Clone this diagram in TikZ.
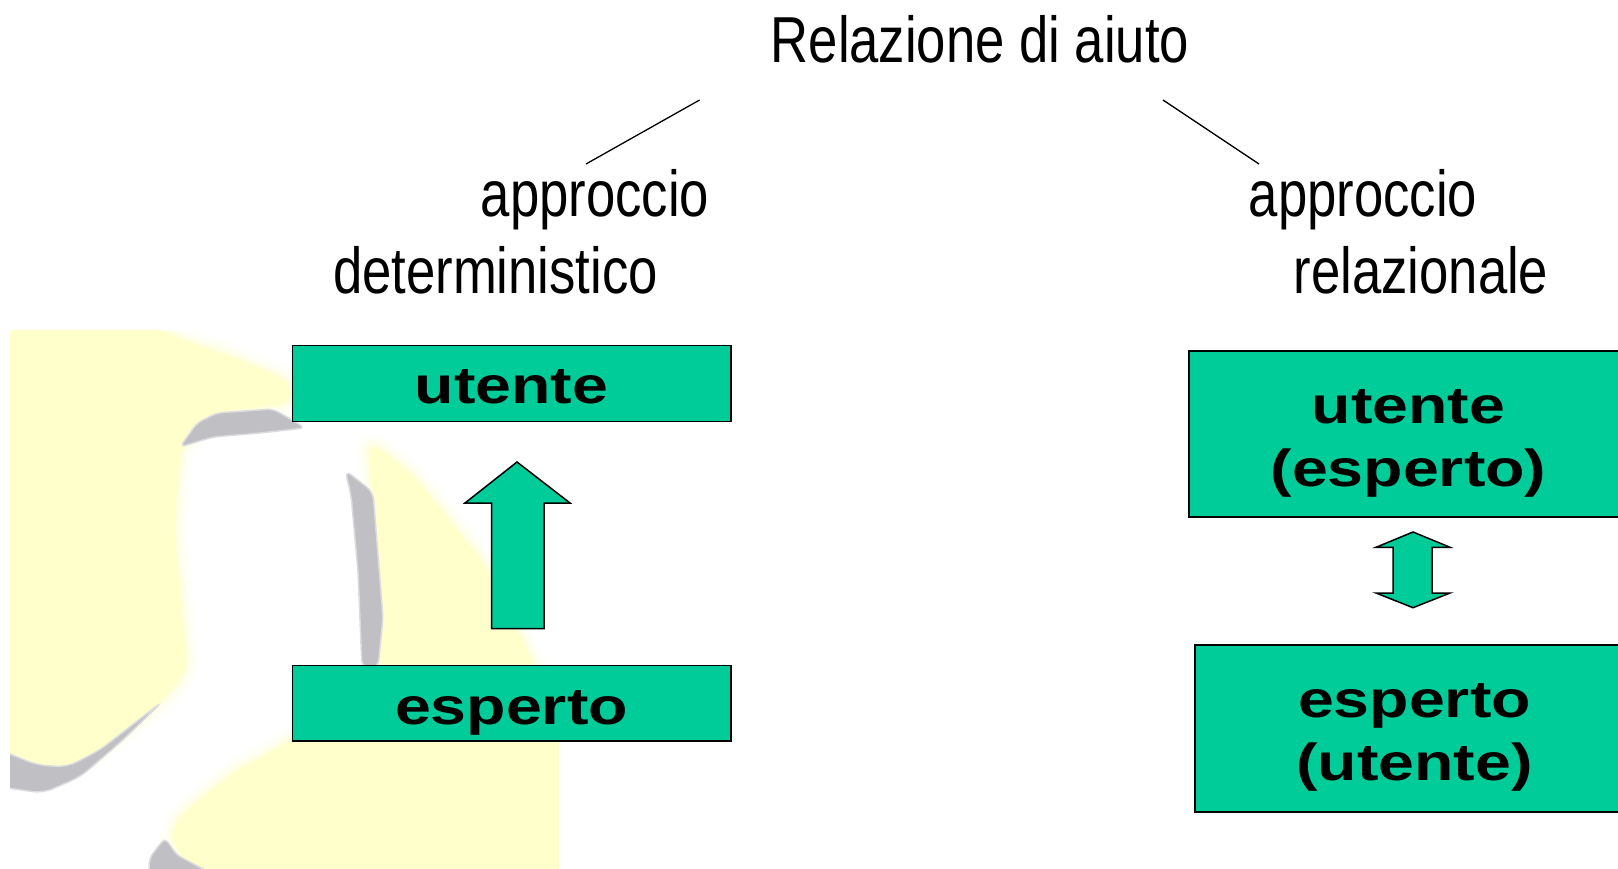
\documentclass[tikz,border=0pt]{standalone}
\usepackage{fontspec}
\setmainfont{Liberation Sans}
\newfontfamily\narrowf[FakeStretch=0.81]{Liberation Sans}
\newfontfamily\widef[FakeStretch=1.24]{Liberation Sans}
\definecolor{boxgreen}{HTML}{00CC99}
\definecolor{paleyellow}{HTML}{FFFFCC}
\definecolor{softgray}{HTML}{C0C0C4}
\tikzset{
  boxnode/.style={draw=black,fill=boxgreen,line width=1.5pt,inner sep=0pt,anchor=north west,
    font=\widef\bfseries\fontsize{52}{63}\selectfont,align=center},
  labeltext/.style={inner sep=0pt,anchor=base,font=\narrowf\fontsize{65}{65}\selectfont},
  tie/.style={draw=black,line width=1.3pt},
  blockarrow/.style={draw=black,fill=boxgreen,line width=1.5pt,line join=miter},
  yellowpatch/.style={fill=paleyellow,rounded corners=14pt},
  grayblur/.style={fill=softgray,draw=softgray!55!white,line width=1.5pt},
}
\newcommand{\boxline}[2]{\raisebox{-#1pt}[0pt][0pt]{\begin{tabular}[b]{@{}c@{}}#2\end{tabular}}}
\begin{document}
\begin{tikzpicture}[x=1pt,y=-1pt]
\useasboundingbox (0,0) rectangle (1618,869);
% faded background picture
\begin{scope}
\clip (10,330) rectangle (559,869);
\foreach \w/\c in {26/10,16/30,7/60}{
  \path[draw=paleyellow!\c!white,fill=paleyellow!\c!white,line width=\w pt,rounded corners=14pt,line join=round]
    (-20,322) -- (140,322) -- (190,343) -- (233,357) -- (292,383) -- (292,403) -- (217,412) -- (180,447) -- (174,530) -- (187,670) -- (163,700) -- (100,750) -- (67,767) -- (37,765) -- (-20,745) -- cycle;
  \path[draw=paleyellow!\c!white,fill=paleyellow!\c!white,line width=\w pt,rounded corners=14pt,line join=round]
    (368,441) -- (412,474) -- (485,565) -- (533,663) -- (580,740) -- (580,890) -- (207,890) -- (177,850) -- (170,830) -- (187,810) -- (233,773) -- (292,740) -- (378,665) -- (383,618) -- (373,492) -- cycle;
}
\path[yellowpatch] (-20,322) -- (140,322) -- (190,343) -- (233,357) -- (292,383) -- (292,403) -- (217,412) -- (180,447) -- (174,530) -- (187,670) -- (163,700) -- (100,750) -- (67,767) -- (37,765) -- (-20,745) -- cycle;
\path[yellowpatch] (368,441) -- (412,474) -- (485,565) -- (533,663) -- (580,740) -- (580,890) -- (207,890) -- (177,850) -- (170,830) -- (187,810) -- (233,773) -- (292,740) -- (378,665) -- (383,618) -- (373,492) -- cycle;
\path[grayblur,rounded corners=6pt] (180,447) -- (197,423) -- (217,413) -- (273,409) -- (292,420) -- (305,428) -- (260,433) -- (213,437) -- cycle;
\path[grayblur,rounded corners=8pt] (345,470) -- (373,492) -- (383,618) -- (378,668) -- (362,668) -- (358,572) -- (351,495) -- cycle;
\path[grayblur,rounded corners=10pt] (0,750) -- (37,765) -- (67,767) -- (100,750) -- (163,701) -- (123,740) -- (80,777) -- (43,793) -- (0,787) -- cycle;
\path[grayblur,rounded corners=5pt] (165,838) -- (150,857) -- (148,880) -- (225,880) -- (203,869) -- (177,855) -- cycle;
\end{scope}

% title and labels
\node[labeltext] (title) at (980,63) {Relazione di aiuto};
\node[labeltext] (appL) at (595,217) {approccio};
\node[labeltext] (detL) at (495.5,293.5) {deterministico};
\node[labeltext] (appR) at (1363,217) {approccio};
\node[labeltext] (relR) at (1421,293.5) {relazionale};

% free-standing ties
\coordinate (tieLa) at (699.6,100);
\coordinate (tieLb) at (586,164);
\coordinate (tieRa) at (1163,100);
\coordinate (tieRb) at (1259,164);
\draw[tie] (tieLa) -- (tieLb);
\draw[tie] (tieRa) -- (tieRb);

% left boxes
\node[boxnode,minimum width=438.5pt,minimum height=76pt] (utL) at (291.5,344.5) {\boxline{20.5}{utente}};
\node[boxnode,minimum width=438.5pt,minimum height=75.5pt] (esL) at (291.5,664.5) {\boxline{21}{esperto}};

% right boxes (running off the page)
\node[boxnode,minimum width=439.4pt,minimum height=166pt] (utR) at (1188,350) {\boxline{53}{utente\\(esperto)}};
\node[boxnode,minimum width=439.4pt,minimum height=167pt] (esR) at (1194,644) {\boxline{52.5}{esperto\\(utente)}};

% block arrows
\draw[blockarrow] (517,462) -- (570,503) -- (544,503) -- (544,628.5) -- (491.5,628.5) -- (491.5,503) -- (465,503) -- cycle;
\draw[blockarrow] (1413,532) -- (1450,547.3) -- (1432,547.3) -- (1432,593) -- (1450,593) -- (1413,607.7) -- (1376,593) -- (1393,593) -- (1393,547.3) -- (1376,547.3) -- cycle;
\end{tikzpicture}
\end{document}
